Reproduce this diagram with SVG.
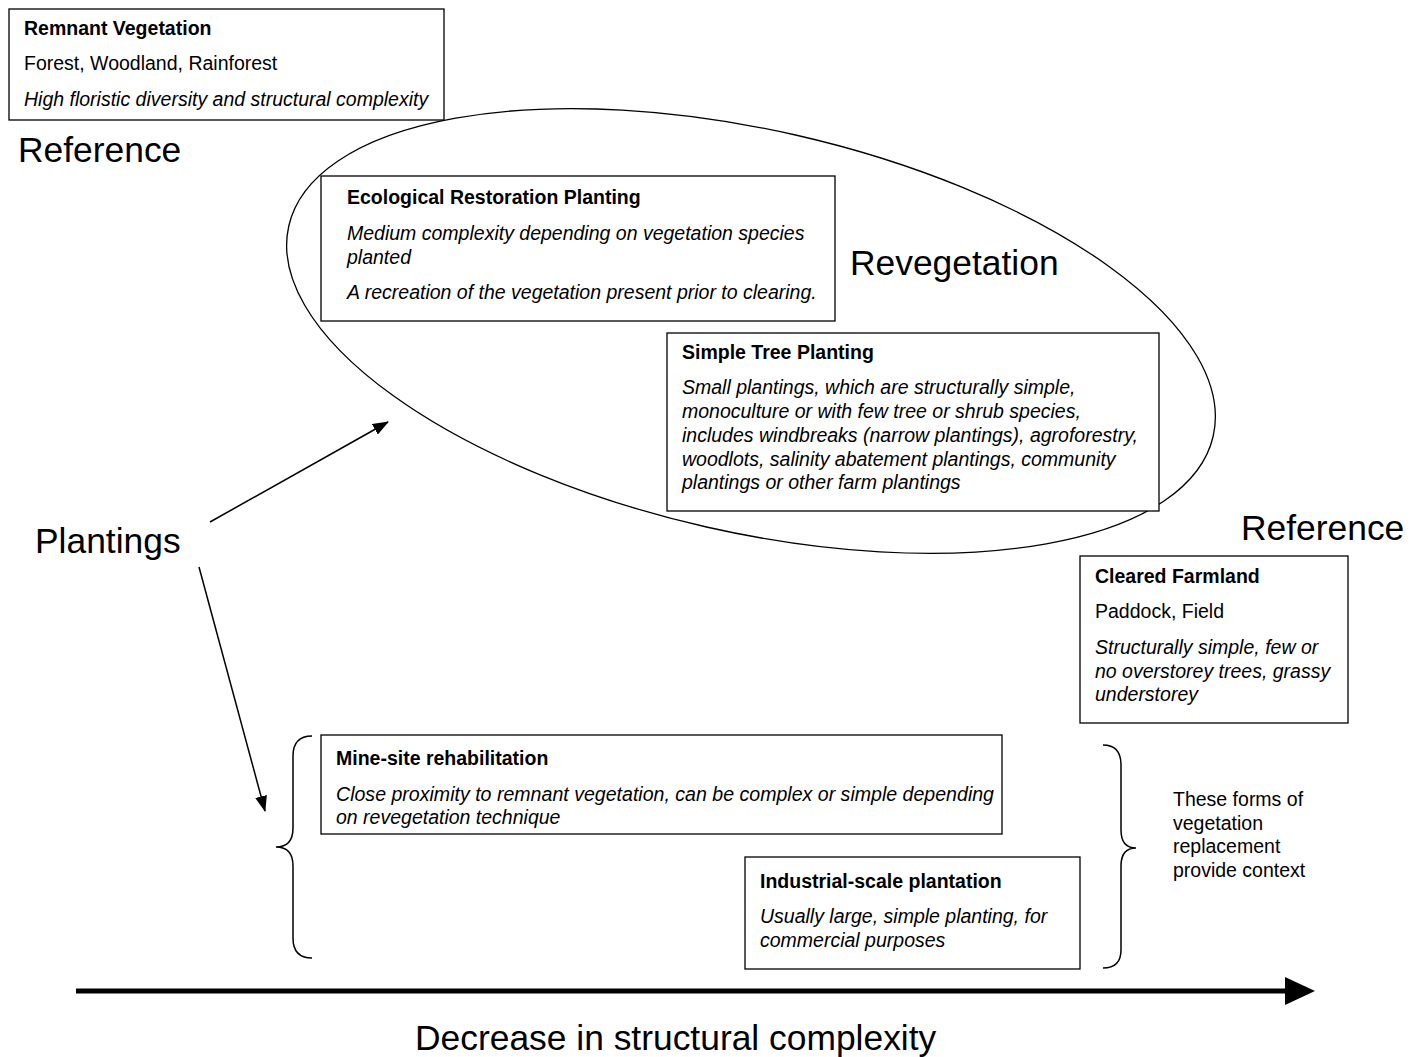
<svg xmlns="http://www.w3.org/2000/svg" width="1418" height="1057" viewBox="0 0 1418 1057">
<defs>
<marker id="ah" markerUnits="userSpaceOnUse" markerWidth="16" markerHeight="12" refX="15" refY="6" orient="auto"><path d="M0,0 L16,6 L0,12 Z" fill="#000"/></marker>
<style>
text{font-family:"Liberation Sans",Arial,sans-serif;fill:#000}
.b{font-size:19.5px;font-weight:bold}
.n{font-size:19.5px}
.i{font-size:19.5px;font-style:italic}
.big{font-size:35.4px}
.box{fill:#fff;stroke:#000;stroke-width:1.3}
.ln{fill:none;stroke:#000;stroke-width:1.5}
</style>
</defs>
<rect width="1418" height="1057" fill="#fff"/>
<g id="revegetation-ellipse">
<ellipse cx="751" cy="331" rx="474" ry="201" transform="rotate(12.8 751 331)" fill="none" stroke="#000" stroke-width="1.3"/>
<text class="big" x="850" y="275">Revegetation</text>
</g>
<g id="remnant">
<rect class="box" x="9" y="9" width="435" height="111"/>
<text class="b" x="24" y="35">Remnant Vegetation</text>
<text class="n" x="24" y="70">Forest, Woodland, Rainforest</text>
<text class="i" x="24" y="106">High floristic diversity and structural complexity</text>
</g>
<g id="reference-left"><text class="big" x="18" y="162">Reference</text></g>
<g id="ecological">
<rect class="box" x="321" y="176" width="514" height="145"/>
<text class="b" x="347" y="204">Ecological Restoration Planting</text>
<text class="i" x="347" y="240">Medium complexity depending on vegetation species</text>
<text class="i" x="347" y="264">planted</text>
<text class="i" x="347" y="299">A recreation of the vegetation present prior to clearing.</text>
</g>
<g id="simple-tree">
<rect class="box" x="667" y="333" width="492" height="178"/>
<text class="b" x="682" y="359">Simple Tree Planting</text>
<text class="i" x="682" y="394">Small plantings, which are structurally simple,</text>
<text class="i" x="682" y="418">monoculture or with few tree or shrub species,</text>
<text class="i" x="682" y="442">includes windbreaks (narrow plantings), agroforestry,</text>
<text class="i" x="682" y="466">woodlots, salinity abatement plantings, community</text>
<text class="i" x="682" y="489">plantings or other farm plantings</text>
</g>
<g id="plantings"><text class="big" x="35" y="553">Plantings</text></g>
<g id="reference-right"><text class="big" x="1241" y="540">Reference</text></g>
<g id="cleared">
<rect class="box" x="1080" y="556" width="268" height="167"/>
<text class="b" x="1095" y="583">Cleared Farmland</text>
<text class="n" x="1095" y="618">Paddock, Field</text>
<text class="i" x="1095" y="654">Structurally simple, few or</text>
<text class="i" x="1095" y="678">no overstorey trees, grassy</text>
<text class="i" x="1095" y="701">understorey</text>
</g>
<g id="mine-site">
<rect class="box" x="321" y="735" width="681" height="99"/>
<text class="b" x="336" y="765">Mine-site rehabilitation</text>
<text class="i" x="336" y="801" textLength="658" lengthAdjust="spacingAndGlyphs">Close proximity to remnant vegetation, can be complex or simple depending</text>
<text class="i" x="336" y="824">on revegetation technique</text>
</g>
<g id="industrial">
<rect class="box" x="745" y="857" width="335" height="112"/>
<text class="b" x="760" y="888">Industrial-scale plantation</text>
<text class="i" x="760" y="923">Usually large, simple planting, for</text>
<text class="i" x="760" y="947">commercial purposes</text>
</g>
<g id="context-note">
<text class="n" x="1173" y="806">These forms of</text>
<text class="n" x="1173" y="830">vegetation</text>
<text class="n" x="1173" y="853">replacement</text>
<text class="n" x="1173" y="877">provide context</text>
</g>
<g id="decrease-label"><text class="big" x="415" y="1050">Decrease in structural complexity</text></g>
<g id="connectors">
<line class="ln" x1="210" y1="522" x2="388" y2="422" marker-end="url(#ah)"/>
<line class="ln" x1="199" y1="567" x2="265" y2="811" marker-end="url(#ah)"/>
<path class="ln" d="M312,736 Q293,736 293,756 L293,828 Q293,847 276,847 Q293,847 293,866 L293,938 Q293,958 312,958"/>
<path class="ln" d="M1103,745 Q1121,745 1121,765 L1121,830 Q1121,848 1136,848 Q1121,848 1121,866 L1121,950 Q1121,968 1103,968"/>
<line x1="76" y1="991" x2="1288" y2="991" stroke="#000" stroke-width="5"/>
<path d="M1285,977 L1315,991 L1285,1005 Z" fill="#000"/>
</g>
</svg>
